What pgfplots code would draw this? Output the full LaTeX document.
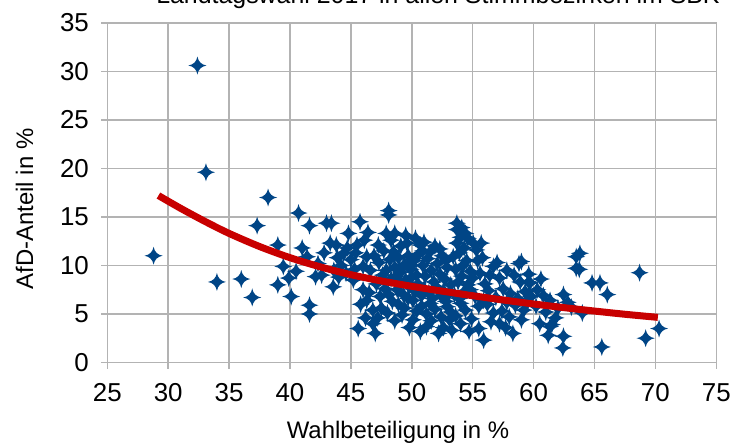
\documentclass[border=0pt]{standalone}
\usepackage{fontspec}
\setmainfont{Liberation Sans}
\usepackage{pgfplots}
\pgfplotsset{compat=1.18}
\definecolor{ptblue}{HTML}{004586}
\definecolor{trendred}{RGB}{200,0,0}
\definecolor{gridgray}{HTML}{B3B3B3}
\pgfdeclareplotmark{star4}{%
  \pgfpathmoveto{\pgfqpoint{0pt}{\pgfplotmarksize}}%
  \pgfpathquadraticcurveto{\pgfqpoint{0.15\pgfplotmarksize}{0.15\pgfplotmarksize}}{\pgfqpoint{\pgfplotmarksize}{0pt}}%
  \pgfpathquadraticcurveto{\pgfqpoint{0.15\pgfplotmarksize}{-0.15\pgfplotmarksize}}{\pgfqpoint{0pt}{-\pgfplotmarksize}}%
  \pgfpathquadraticcurveto{\pgfqpoint{-0.15\pgfplotmarksize}{-0.15\pgfplotmarksize}}{\pgfqpoint{-\pgfplotmarksize}{0pt}}%
  \pgfpathquadraticcurveto{\pgfqpoint{-0.15\pgfplotmarksize}{0.15\pgfplotmarksize}}{\pgfqpoint{0pt}{\pgfplotmarksize}}%
  \pgfpathclose
  \pgfusepathqfill
}
\pgfplotstableread{
x y
28.8 11.0
32.4 30.6
33.1 19.6
34.0 8.3
36.0 8.6
36.9 6.7
37.3 14.1
38.2 17.0
39.0 12.1
39.45 9.9
39.9 8.7
39.0 8.0
40.1 6.8
40.7 15.4
41.6 14.1
41.4 10.9
42.1 8.85
41.6 5.9
41.6 5.0
43.0 14.35
43.3 12.3
43.55 7.8
42.3 10.2
40.5 9.4
42.8 11.3
41.0 11.8
42.6 9.0
43.4 14.35
43.8 12.1
44.4 11.25
44.8 13.3
45.75 14.5
45.5 12.1
46.4 13.4
46.3 10.9
46.0 9.9
46.0 7.5
46.3 6.4
46.8 5.4
45.6 3.5
46.8 4.0
47.0 3.0
47.9 13.3
47.25 12.1
48.1 15.65
48.1 15.2
44.2 10.0
44.6 9.2
45.0 10.6
45.2 8.5
44.0 8.8
43.9 10.8
45.4 11.3
46.6 9.5
46.9 11.0
47.3 10.3
47.6 9.0
47.1 8.1
46.5 7.2
47.4 6.8
47.8 7.6
45.8 6.0
46.2 4.6
47.2 4.6
47.5 5.6
45.3 9.6
44.7 11.8
43.6 9.5
46.1 12.6
47.7 11.5
48.3 12.6
48.5 11.4
49.6 12.3
50.7 12.1
51.5 11.4
49.2 4.9
50.1 4.4
51.2 3.7
52.2 3.0
53.1 4.4
50.1 6.4
48.8 7.5
51.5 6.1
52.9 5.75
48.2 10.6
48.6 9.8
48.9 10.8
49.1 9.3
49.4 10.1
49.7 11.0
49.9 9.6
50.2 10.5
50.4 9.0
50.6 11.2
50.9 10.0
51.1 8.9
51.3 10.7
51.6 9.5
51.8 8.3
52.1 10.2
52.3 9.1
52.5 11.0
52.7 8.6
52.9 9.8
53.2 8.0
48.3 8.6
48.7 8.9
49.0 8.2
49.3 7.0
49.5 8.5
49.8 7.8
50.0 8.8
50.3 7.3
50.5 8.1
50.8 6.9
51.0 7.6
51.4 7.2
51.7 6.6
52.0 7.8
52.4 6.9
52.6 7.4
52.8 6.3
53.0 7.0
48.4 6.3
48.9 6.0
49.4 5.6
49.7 6.6
50.4 5.3
50.8 5.8
51.2 5.0
51.9 5.5
52.4 4.7
53.2 5.2
48.6 4.3
49.8 3.6
50.7 3.2
51.6 4.3
52.6 3.6
48.0 5.1
49.1 12.0
50.3 12.8
51.0 12.4
51.9 12.0
52.3 11.7
49.5 13.1
48.6 13.3
50.0 10.0
50.9 11.5
52.8 10.5
47.9 9.5
48.1 7.0
53.7 13.7
53.7 12.3
53.4 10.9
53.7 14.35
54.4 13.3
55.7 12.3
55.05 12.3
55.3 11.6
54.1 13.9
54.6 12.8
54.0 12.9
54.3 11.8
53.9 11.3
54.5 10.5
54.2 10.0
53.6 9.6
54.8 9.4
54.1 8.9
53.8 8.3
54.6 8.0
55.0 8.7
54.3 7.3
53.5 7.0
54.8 7.5
54.0 6.1
53.9 6.6
55.2 6.8
55.6 9.2
55.9 6.4
54.4 5.4
53.6 4.8
54.9 4.5
54.0 4.0
55.5 3.5
55.9 2.3
55.4 10.5
55.8 10.8
56.0 8.1
55.5 5.8
53.3 3.3
54.7 3.2
56.7 9.9
59.0 10.4
57.2 8.7
58.9 8.3
59.7 8.2
56.7 5.1
59.2 5.4
57.2 4.0
58.3 3.0
56.3 7.4
56.9 6.7
57.5 7.6
57.8 6.2
58.1 7.1
58.5 5.9
58.7 6.6
59.3 7.3
59.5 6.2
57.4 5.3
58.0 4.7
59.0 4.4
56.4 9.0
57.0 10.3
57.8 9.5
58.4 9.0
59.6 9.1
58.8 10.2
56.2 6.0
59.6 8.3
56.5 4.2
57.7 3.6
59.8 6.8
60.5 4.0
61.35 3.7
62.45 2.7
62.45 7.0
61.35 6.4
63.5 10.9
63.5 9.7
63.8 11.25
63.75 9.6
64.8 8.2
65.45 8.2
66.05 7.0
68.7 9.25
70.3 3.5
69.2 2.5
65.6 1.6
62.4 1.5
61.2 2.8
64.0 5.1
61.5 3.9
60.2 5.8
60.8 6.9
61.0 5.2
62.0 5.6
60.3 7.5
61.8 4.6
62.8 6.2
60.6 8.6
63.1 5.7
}\points
\pgfplotstableread{
x y
29.2 17.2
31.0 15.9
33.0 14.55
35.0 13.3
37.5 11.95
40.0 10.8
42.5 9.85
45.0 9.05
47.5 8.4
50.0 7.85
52.5 7.35
55.0 6.88
57.5 6.44
60.0 6.03
62.5 5.65
65.0 5.3
67.5 4.97
70.2 4.65
}\trend
\begin{document}
\begin{tikzpicture}
\useasboundingbox (-53.65bp,-40.75bp) rectangle (318.35bp,181.25bp);
\begin{axis}[
  at={(0,0)}, anchor=south west,
  scale only axis, width=304.5bp, height=169.85bp,
  xmin=25, xmax=75, ymin=0, ymax=35,
  xtick={25,30,...,75}, ytick={0,5,...,35},
  grid=major,
  major grid style={gridgray, line width=0.7bp},
  axis line style={gridgray, line width=0.7bp},
  tick style={gridgray, line width=0.7bp},
  tick align=outside, major tick length=3bp,
  xtick pos=left, ytick pos=left,
  /pgf/number format/assume math mode=true,
  ticklabel style={font=\fontsize{13}{15}\selectfont, text=black},
  xticklabel style={anchor=center, inner sep=0pt, yshift=-12bp},
  yticklabel style={anchor=east, inner sep=0pt, xshift=-6bp},
  clip=false,
  clip marker paths=true,
]
\addplot[only marks, mark=star4, mark size=4.5bp, color=ptblue, fill=ptblue] table {\points};
\addplot[no marks, smooth, color=trendred, line width=3.5bp] table {\trend};
\end{axis}
\node[anchor=base, font=\fontsize{12}{14}\selectfont] at (145.35bp,-37.75bp) {Wahlbeteiligung in \%};
\node[anchor=base, rotate=90, font=\fontsize{12}{14}\selectfont] at (-37.15bp,76.75bp) {AfD-Anteil in \%};
\node[anchor=base, font=\fontsize{12.5}{14}\selectfont] at (165.35bp,179.25bp) {Landtagswahl 2017 in allen Stimmbezirken im SBK};
\end{tikzpicture}
\end{document}
